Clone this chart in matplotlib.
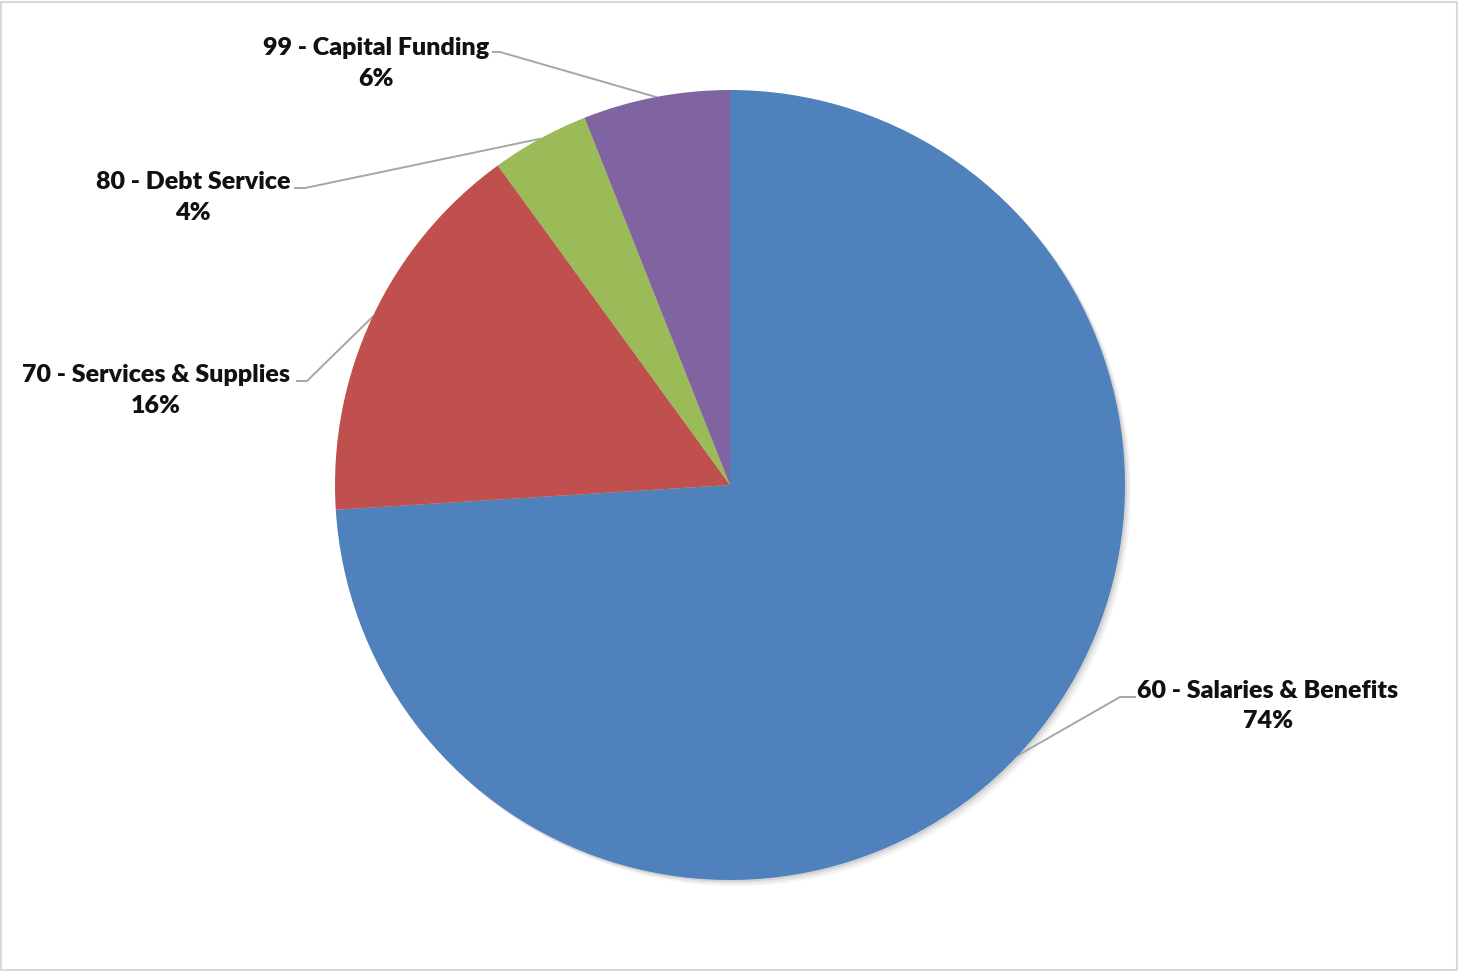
import matplotlib.pyplot as plt
import numpy as np
from matplotlib.patches import Circle, Rectangle

# data
categories = ["60 - Salaries & Benefits", "70 - Services & Supplies",
              "80 - Debt Service", "99 - Capital Funding"]
shares = [74, 16, 4, 6]
colors = ["#4F81BD", "#C0504D", "#9BBB59", "#8064A2"]

plt.rcParams["font.family"] = ["Lato", "DejaVu Sans"]

W, H = 1460, 971
fig = plt.figure(figsize=(W / 100, H / 100), dpi=100)
ax = fig.add_axes([0, 0, 1, 1])

cx, cy, r = 730, H - 485, 395

# soft shadow behind the pie
for off, a in [(6, 0.10), (4, 0.15), (2, 0.25)]:
    ax.add_patch(Circle((cx + off, cy - off), r, color="#9a9a9a", alpha=a, lw=0, zorder=0))

wedges, _ = ax.pie(shares, colors=colors, startangle=90, counterclock=False,
                   center=(cx, cy), radius=r, frame=True,
                   wedgeprops=dict(linewidth=0, zorder=2))
ax.set_xlim(0, W)
ax.set_ylim(0, H)
ax.set_aspect("equal")
ax.axis("off")

# label centre, leader start (near text), leader elbow
label_pos = {
    0: ((1268, 706), (1135, 697), (1120, 697)),
    1: ((156, 390), (297, 381), (307, 381)),
    2: ((193, 197), (295, 188), (305, 188)),
    3: ((376, 63), (493, 52), (500, 52)),
}

for i, w in enumerate(wedges):
    mid = np.deg2rad((w.theta1 + w.theta2) / 2)
    ex, ey = cx + r * np.cos(mid), cy + r * np.sin(mid)
    (tx, ty), (ax1, ay1), (ax2, ay2) = label_pos[i]
    ax.plot([ax1, ax2, ex], [H - ay1, H - ay2, ey], color="#A6A6A6", lw=1.4, zorder=1)
    ax.text(tx, H - ty, f"{categories[i]}\n{shares[i]}%", ha="center", va="center",
            fontsize=18, fontweight="heavy", color="#111111", linespacing=1.5)

fig.add_artist(Rectangle((0.001, 0.001), 0.997, 0.997, transform=fig.transFigure,
                         fill=False, edgecolor="#D9D9D9", lw=1.5))

fig.savefig("out.png", dpi=100, facecolor="white")
